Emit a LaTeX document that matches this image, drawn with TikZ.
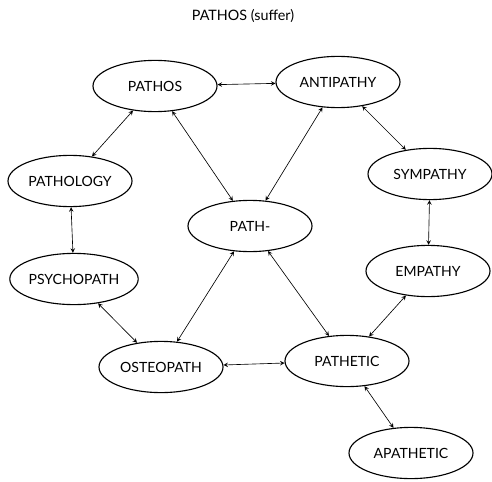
\documentclass[tikz,border=0pt]{standalone}
\usepackage{fontspec}
\setmainfont{Lato}
\usepackage{tikz}
\usetikzlibrary{shapes, arrows}

\tikzset{
	word/.style = {draw, ellipse, inner sep = 0pt, line width = 0.8pt, minimum width = 3.1cm, minimum height = 1.28cm, align = center, font = \fontsize{10}{12}\selectfont},
	link/.style = {<->, >=stealth, line width = 0.45pt}
}

\begin{document}
\begin{tikzpicture}
	\useasboundingbox (0,0) rectangle (12.3,12.025);
	\node [align = center, font = \fontsize{10.2}{12}\selectfont] (title) at (6.075,11.625) {PATHOS (suffer)};

	\node [word] (pathos) at (3.875,9.875) {PATHOS};
	\node [word] (antipathy) at (8.45,9.975) {ANTIPATHY};
	\node [word] (pathology) at (1.75,7.5) {PATHOLOGY};
	\node [word] (sympathy) at (10.75,7.675) {SYMPATHY};
	\node [word] (path) at (6.25,6.375) {PATH-};
	\node [word] (psychopath) at (1.85,5.05) {PSYCHOPATH};
	\node [word] (empathy) at (10.7,5.25) {EMPATHY};
	\node [word] (osteopath) at (4.025,2.85) {OSTEOPATH};
	\node [word] (pathetic) at (8.675,3.0) {PATHETIC};
	\node [word] (apathetic) at (10.275,0.7) {APATHETIC};

	\draw [link] (pathos) -- (antipathy);
	\draw [link] (pathos) -- (pathology);
	\draw [link] (pathos) -- (path);
	\draw [link] (antipathy) -- (path);
	\draw [link] (antipathy) -- (sympathy);
	\draw [link] (pathology) -- (psychopath);
	\draw [link] (sympathy) -- (empathy);
	\draw [link] (path) -- (osteopath);
	\draw [link] (path) -- (pathetic);
	\draw [link] (psychopath) -- (osteopath);
	\draw [link] (empathy) -- (pathetic);
	\draw [link] (osteopath) -- (pathetic);
	\draw [link] (pathetic) -- (apathetic);

\end{tikzpicture}
\end{document}
